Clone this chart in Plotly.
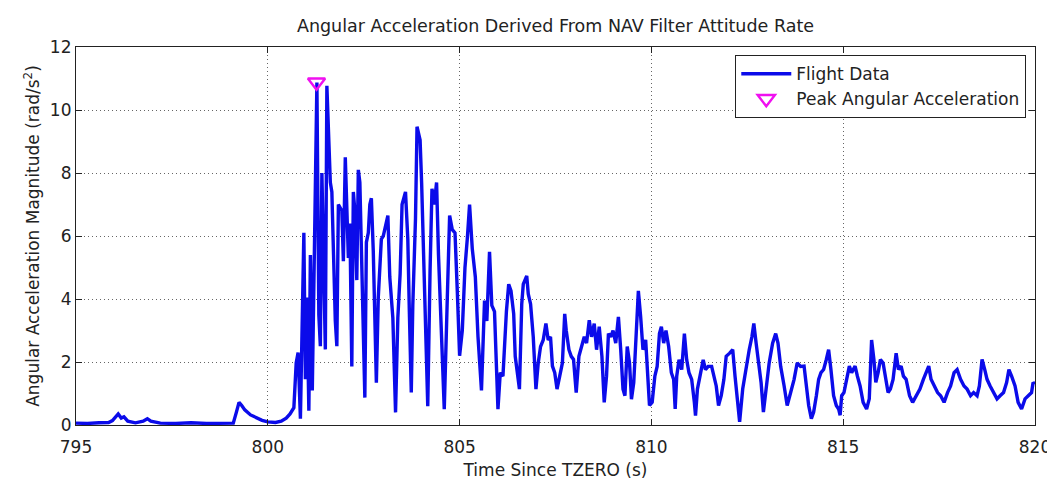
import plotly.graph_objs as go

# time since TZERO (s) and angular acceleration magnitude (rad/s^2)
time_s = [
    795.00, 795.30, 795.60, 795.85, 795.95, 796.05, 796.10, 796.18, 796.25, 796.35,
    796.55, 796.75, 796.86, 796.95, 797.20, 797.60, 798.00, 798.40, 798.80, 799.10,
    799.18, 799.25, 799.32, 799.40, 799.55, 799.70, 799.85, 800.00, 800.20, 800.35,
    800.48, 800.58, 800.68,
    800.74, 800.79, 800.85, 800.90, 800.94, 800.98, 801.02, 801.07, 801.11, 801.16,
    801.20, 801.24, 801.28, 801.33, 801.37, 801.41, 801.46, 801.50, 801.54, 801.59,
    801.63, 801.67, 801.76, 801.80, 801.84, 801.93, 801.97, 802.02, 802.06, 802.10,
    802.14, 802.19, 802.23, 802.27, 802.32, 802.36, 802.40, 802.45, 802.49, 802.53,
    802.57, 802.62, 802.66, 802.70, 802.75, 802.79, 802.83, 802.88, 802.96,
    803.01, 803.13, 803.18, 803.26, 803.33, 803.39, 803.45, 803.50, 803.59, 803.65,
    803.69, 803.74, 803.78, 803.85, 803.89, 803.97, 804.01, 804.05, 804.12, 804.17,
    804.23, 804.28, 804.34, 804.40, 804.45, 804.51, 804.60, 804.68, 804.74, 804.81,
    804.88, 804.94, 805.00, 805.07, 805.14, 805.20, 805.26, 805.33, 805.41, 805.48,
    805.57, 805.65, 805.71, 805.78, 805.84, 805.91, 806.00,
    806.06, 806.13, 806.22, 806.28, 806.34, 806.41, 806.45, 806.51, 806.56, 806.62,
    806.66, 806.75, 806.79, 806.85, 806.92, 806.99, 807.05, 807.11, 807.18, 807.25,
    807.31, 807.37, 807.42, 807.48, 807.54, 807.61, 807.68, 807.74, 807.78, 807.85,
    807.91, 807.97, 808.04, 808.11, 808.17, 808.25, 808.31, 808.38, 808.44, 808.51,
    808.57, 808.64, 808.71, 808.77, 808.83, 808.88, 808.94, 809.00, 809.07, 809.14,
    809.20, 809.26, 809.31, 809.37, 809.43, 809.48, 809.54, 809.60, 809.66, 809.72,
    809.78, 809.85, 809.89, 809.95,
    810.02, 810.09, 810.15, 810.21, 810.26, 810.32, 810.38, 810.45, 810.52, 810.58,
    810.62, 810.66, 810.72, 810.79, 810.86, 810.92, 810.98, 811.05, 811.12, 811.15,
    811.20, 811.26, 811.35, 811.41, 811.48, 811.57, 811.63, 811.69, 811.75, 811.82,
    811.89, 811.95, 812.04, 812.12, 812.18, 812.25, 812.30, 812.38, 812.47, 812.55,
    812.62, 812.67, 812.73, 812.79, 812.86, 812.92, 812.98, 813.07, 813.16, 813.24,
    813.30, 813.37, 813.46, 813.54, 813.63, 813.72, 813.80, 813.89,
    813.98, 814.04, 814.10, 814.17, 814.23, 814.30, 814.36, 814.42, 814.49, 814.56,
    814.62, 814.68, 814.75, 814.82, 814.88, 814.92, 814.96, 815.02, 815.09, 815.16,
    815.22, 815.31, 815.37, 815.44, 815.52, 815.61, 815.68, 815.74, 815.80, 815.85,
    815.91, 815.97, 816.04, 816.11, 816.17, 816.23, 816.30, 816.38, 816.44, 816.51,
    816.57, 816.64, 816.73, 816.81, 816.90, 817.00, 817.09, 817.16, 817.23, 817.29,
    817.37, 817.46, 817.54, 817.63, 817.72, 817.80, 817.89, 817.97, 818.06, 818.15,
    818.23, 818.32, 818.40, 818.49, 818.55, 818.62, 818.69, 818.75, 818.83, 818.92,
    819.01, 819.09, 819.18, 819.26, 819.32, 819.39, 819.48, 819.56, 819.65, 819.74,
    819.82, 819.91, 819.95, 820.00,
]
accel = [
    0.06, 0.05, 0.07, 0.08, 0.14, 0.28, 0.35, 0.22, 0.26, 0.12,
    0.07, 0.12, 0.20, 0.12, 0.06, 0.05, 0.07, 0.05, 0.07, 0.06,
    0.40, 0.72, 0.62, 0.48, 0.32, 0.22, 0.15, 0.10, 0.08, 0.12,
    0.22, 0.35, 0.55,
    1.97, 2.30, 0.20, 3.40, 6.10, 1.45, 4.05, 0.45, 5.40, 1.10,
    4.90, 8.50, 10.87, 3.50, 2.50, 8.00, 5.10, 2.40, 10.77, 9.40,
    7.70, 7.40, 3.30, 2.50, 7.00, 6.80, 5.20, 8.50, 7.00, 5.30,
    6.40, 1.86, 7.40, 6.80, 4.60, 8.10, 7.70, 4.70, 2.20, 0.87,
    5.80, 6.10, 7.00, 7.20, 5.50, 3.00, 1.34, 4.05, 5.90,
    6.00, 6.65, 4.70, 3.40, 0.40, 3.40, 4.80, 7.00, 7.40, 5.90,
    3.60, 1.03, 3.80, 6.55, 9.47, 9.05, 7.70, 5.90, 2.60, 0.60,
    4.90, 7.50, 7.00, 7.70, 5.40, 3.30, 0.50, 4.05, 6.65, 6.20,
    6.10, 4.25, 2.20, 3.00, 5.00, 5.90, 7.00, 5.60, 4.70, 2.80,
    1.10, 3.95, 3.30, 5.50, 3.80, 3.60, 0.50,
    1.66, 1.55, 3.60, 4.47, 4.26, 3.53, 2.18, 1.66, 1.14, 3.84,
    4.47, 4.73, 4.16, 3.84, 2.80, 1.14, 1.97, 2.49, 2.70, 3.22,
    2.70, 2.80, 1.87, 1.66, 1.14, 1.55, 1.97, 3.53, 3.00, 2.39,
    2.18, 2.08, 1.03, 2.18, 2.49, 2.80, 2.60, 3.33, 2.80, 3.22,
    2.39, 3.12, 2.18, 0.72, 1.55, 2.90, 2.80, 3.00, 2.60, 3.43,
    2.39, 1.14, 0.93, 2.49, 1.97, 0.82, 1.35, 2.60, 4.26, 3.43,
    2.39, 2.70, 1.97, 0.62,
    0.72, 1.55, 1.86, 2.90, 3.12, 2.60, 3.00, 2.49, 1.66, 1.45,
    0.51, 1.55, 2.07, 1.76, 2.90, 2.07, 1.66, 1.45, 0.72, 0.30,
    1.14, 1.55, 2.07, 1.76, 1.86, 1.86, 1.55, 1.24, 0.62, 0.93,
    1.45, 2.18, 2.28, 2.39, 1.55, 0.82, 0.10, 1.14, 1.86, 2.39,
    2.80, 3.22, 2.60, 2.07, 1.34, 0.41, 1.14, 1.97, 2.60, 2.90,
    2.60, 1.86, 1.24, 0.62, 1.03, 1.45, 1.97, 1.86,
    1.87, 1.24, 0.62, 0.20, 0.41, 0.93, 1.45, 1.66, 1.76, 2.08,
    2.39, 1.76, 0.93, 0.62, 0.51, 0.31, 0.93, 1.03, 1.45, 1.87,
    1.66, 1.87, 1.55, 1.24, 0.72, 0.51, 0.83, 2.70, 2.08, 1.35,
    1.66, 2.08, 1.97, 1.45, 1.03, 1.14, 1.45, 2.28, 1.76, 1.87,
    1.55, 1.45, 0.93, 0.72, 0.93, 1.14, 1.45, 1.66, 1.87, 1.45,
    1.24, 1.03, 0.93, 0.72, 1.03, 1.24, 1.66, 1.76, 1.45, 1.24,
    1.14, 0.93, 1.03, 0.93, 1.24, 2.08, 1.76, 1.45, 1.24, 1.03,
    0.83, 0.93, 1.03, 1.35, 1.76, 1.55, 1.24, 0.72, 0.51, 0.83,
    0.93, 1.03, 1.35, 1.30,
]

peak_time = [801.27]
peak_accel = [10.88]

x_ticks = [795, 800, 805, 810, 815, 820]
y_ticks = [0, 2, 4, 6, 8, 10, 12]

font = "DejaVu Sans, sans-serif"
fsize = 17

fig = go.Figure()
fig.add_trace(go.Scatter(x=time_s, y=accel, mode="lines", name="Flight Data",
                         line=dict(color="#0b0bea", width=3.4)))
fig.add_trace(go.Scatter(x=peak_time, y=peak_accel, mode="markers",
                         name="Peak Angular Acceleration",
                         marker=dict(symbol="triangle-down-open", size=15,
                                     color="#f010f0", line=dict(width=2.4, color="#f010f0"))))

axis_style = dict(showline=True, linecolor="#222", linewidth=1.2, mirror="ticks",
                  ticks="inside", ticklen=6, tickcolor="#222", tickwidth=1,
                  showgrid=True, gridcolor="#666", gridwidth=1, griddash="1px,3px",
                  zeroline=False, tickfont=dict(family=font, size=fsize, color="#222"))

fig.update_layout(
    width=1055, height=480,
    margin=dict(l=68, r=18, t=39, b=57),
    paper_bgcolor="white", plot_bgcolor="white",
    font=dict(family=font, color="#222"),
    title=dict(text="Angular Acceleration Derived From NAV Filter Attitude Rate",
               x=0.5, xref="paper", y=1 - 18 / 480, yref="container", yanchor="middle",
               font=dict(family=font, size=17.5, color="#222")),
    xaxis=dict(range=[795, 820], tickvals=x_ticks, ticklabelstandoff=6,
               title=dict(text="Time Since TZERO (s)", standoff=8,
                          font=dict(family=font, size=fsize, color="#222")),
               **axis_style),
    yaxis=dict(range=[0, 12], tickvals=y_ticks,
               title=dict(text="Angular Acceleration Magnitude (rad/s<sup>2</sup>)", standoff=5,
                          font=dict(family=font, size=fsize, color="#222")),
               **axis_style),
    legend=dict(x=0.9907, xanchor="right", y=0.979, yanchor="top",
                bgcolor="white", bordercolor="#222", borderwidth=1.2,
                itemwidth=50, font=dict(family=font, size=fsize, color="#222")),
    showlegend=True,
)

fig.write_html("out.html")
